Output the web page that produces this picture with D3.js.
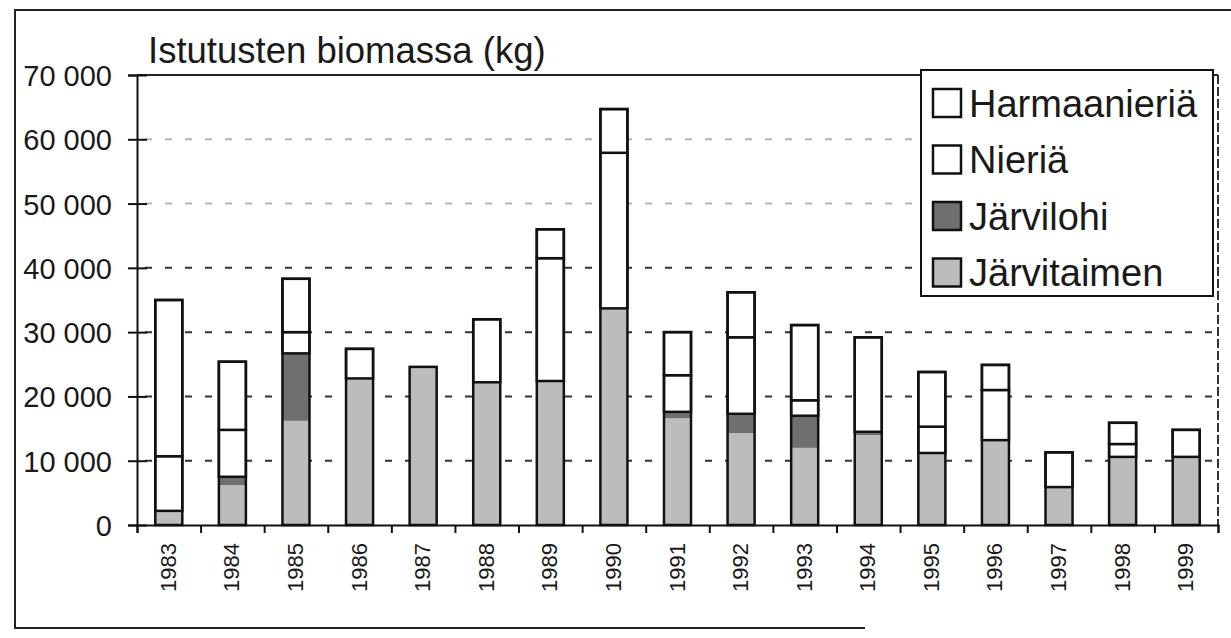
<!DOCTYPE html>
<html>
<head>
<meta charset="utf-8">
<script src="https://cdn.jsdelivr.net/npm/d3@7"></script>
<style>
  body { margin: 0; background: #fff; }
  svg text { font-family: "Liberation Sans", Arial, sans-serif; fill: #1a1a1a; }
</style>
</head>
<body>
<script>
// DATA (kg)
var years = ['1983','1984','1985','1986','1987','1988','1989','1990','1991',
             '1992','1993','1994','1995','1996','1997','1998','1999'];
var jarvitaimen  = [2200, 6200, 16200, 22800, 24600, 22200, 22400, 33700, 16600, 14300, 12000, 14000, 11200, 13200, 5900, 10600, 10600];
var jarvilohi    = [0, 1300, 10500, 0, 0, 0, 0, 0, 1000, 3000, 5000, 500, 0, 0, 0, 0, 0];
var nieria       = [8500, 7300, 3300, 4600, 0, 9800, 19100, 24200, 5700, 11900, 2400, 14700, 4100, 7800, 5400, 2000, 4200];
var harmaanieria = [24300, 10600, 8300, 0, 0, 0, 4500, 6800, 6700, 7000, 11700, 0, 8500, 3900, 0, 3300, 0];
var yTicks = [0, 10000, 20000, 30000, 40000, 50000, 60000, 70000];

var seriesNames = ['Järvitaimen', 'Järvilohi', 'Nieriä', 'Harmaanieriä'];
var colors = { 'Järvitaimen': '#bcbcbc', 'Järvilohi': '#6f6f6f', 'Nieriä': '#fff', 'Harmaanieriä': '#fff' };

var rows = years.map(function(y, i) {
  return { year: y, 'Järvitaimen': jarvitaimen[i], 'Järvilohi': jarvilohi[i],
           'Nieriä': nieria[i], 'Harmaanieriä': harmaanieria[i] };
});

var W = 1231, H = 638;
var plot = { left: 137, right: 1218, top: 75, bottom: 525 };

var svg = d3.select('body').append('svg')
  .attr('width', W)
  .attr('height', H);

// outer frame
svg.append('path')
  .attr('d', 'M1231,10 L15,10 L15,628 L865,628')
  .attr('fill', 'none')
  .attr('stroke', '#222')
  .attr('stroke-width', 2);

// SCALES
var x = d3.scaleBand()
  .domain(years)
  .range([plot.left, plot.right])
  .paddingInner(0.575)
  .paddingOuter(0.2875);

var xEdges = d3.scaleLinear()
  .domain([0, years.length])
  .range([plot.left, plot.right]);

var y = d3.scaleLinear()
  .domain([0, 70000])
  .range([plot.bottom, plot.top]);

// gridlines
svg.append('g')
  .selectAll('line')
  .data(yTicks.filter(function(d) { return d > 0 && d < 70000; }))
  .enter().append('line')
    .attr('x1', plot.left + 8)
    .attr('x2', plot.right)
    .attr('y1', function(d) { return y(d); })
    .attr('y2', function(d) { return y(d); })
    .attr('stroke', function(d) { return d >= 50000 ? '#b5b5b5' : '#333'; })
    .attr('stroke-width', 2)
    .attr('stroke-dasharray', '7,13');

// plot border top + right
svg.append('line')
  .attr('x1', plot.left).attr('x2', plot.right)
  .attr('y1', plot.top).attr('y2', plot.top)
  .attr('stroke', '#222').attr('stroke-width', 2);
svg.append('line')
  .attr('x1', plot.right).attr('x2', plot.right)
  .attr('y1', plot.top).attr('y2', plot.bottom)
  .attr('stroke', '#333').attr('stroke-width', 2)
  .attr('stroke-dasharray', '9,3');

// BARS
var stacked = d3.stack().keys(seriesNames)(rows);

var layers = svg.append('g').selectAll('g')
  .data(stacked)
  .enter().append('g')
    .attr('fill', function(d) { return colors[d.key]; });

layers.each(function(layer) {
  var white = layer.key === 'Nieriä' || layer.key === 'Harmaanieriä';
  d3.select(this).selectAll('rect')
    .data(layer.filter(function(d) { return d[1] > d[0]; }))
    .enter().append('rect')
      .attr('x', function(d) { return x(d.data.year); })
      .attr('y', function(d) { return y(d[1]); })
      .attr('width', x.bandwidth())
      .attr('height', function(d) { return y(d[0]) - y(d[1]); })
      .attr('stroke', white ? '#111' : 'none')
      .attr('stroke-width', 2.5);
});

// outline around each whole bar
svg.append('g').selectAll('rect')
  .data(rows)
  .enter().append('rect')
    .attr('x', function(d) { return x(d.year); })
    .attr('y', function(d) { return y(d3.sum(seriesNames, function(k) { return d[k]; })); })
    .attr('width', x.bandwidth())
    .attr('height', function(d) { return plot.bottom - y(d3.sum(seriesNames, function(k) { return d[k]; })); })
    .attr('fill', 'none')
    .attr('stroke', '#111')
    .attr('stroke-width', 2.5);

// AXES
var yAxis = svg.append('g')
  .attr('transform', 'translate(' + plot.left + ',0)')
  .call(d3.axisLeft(y).tickValues(yTicks).tickSize(9)
    .tickFormat(function(d) { return d3.format(',')(d).replace(/,/g, ' '); }));
yAxis.select('.domain').attr('stroke', '#111').attr('stroke-width', 2);
yAxis.selectAll('.tick line').attr('x2', 10).attr('x1', -9).attr('stroke', '#111').attr('stroke-width', 2);
yAxis.selectAll('.tick text')
  .attr('x', -25)
  .attr('dy', '0.36em')
  .style('font-size', '29px');

var xAxis = svg.append('g')
  .attr('transform', 'translate(0,' + plot.bottom + ')')
  .call(d3.axisBottom(xEdges).tickValues(d3.range(years.length + 1)).tickSize(8).tickFormat(''));
xAxis.select('.domain').attr('stroke', '#111').attr('stroke-width', 2);
xAxis.selectAll('.tick line').attr('stroke', '#111').attr('stroke-width', 2);

var xLabels = svg.append('g')
  .attr('transform', 'translate(0,' + plot.bottom + ')')
  .call(d3.axisBottom(x).tickSize(0));
xLabels.select('.domain').remove();
xLabels.selectAll('.tick text')
  .attr('transform', 'rotate(-90)')
  .attr('x', -18)
  .attr('y', 0)
  .attr('dy', '0.32em')
  .style('text-anchor', 'end')
  .style('font-size', '22px');

// title
svg.append('text')
  .attr('x', 148)
  .attr('y', 63)
  .style('font-size', '36.5px')
  .text('Istutusten biomassa (kg)');

// LEGEND
var legendItems = seriesNames.slice().reverse();
var legend = svg.append('g');
legend.append('rect')
  .attr('x', 921).attr('y', 70)
  .attr('width', 292).attr('height', 226)
  .attr('fill', '#fff')
  .attr('stroke', '#111')
  .attr('stroke-width', 2);

var li = legend.selectAll('.item')
  .data(legendItems)
  .enter().append('g')
    .attr('class', 'item')
    .attr('transform', function(d, i) { return 'translate(933,' + (103 + i * 56.5) + ')'; });
li.append('rect')
  .attr('x', 0).attr('y', -14)
  .attr('width', 28).attr('height', 28)
  .attr('fill', function(d) { return colors[d]; })
  .attr('stroke', '#111')
  .attr('stroke-width', 2.5);
li.append('text')
  .attr('x', 36)
  .attr('dy', '0.36em')
  .style('font-size', '38px')
  .text(function(d) { return d; });
</script>
</body>
</html>
